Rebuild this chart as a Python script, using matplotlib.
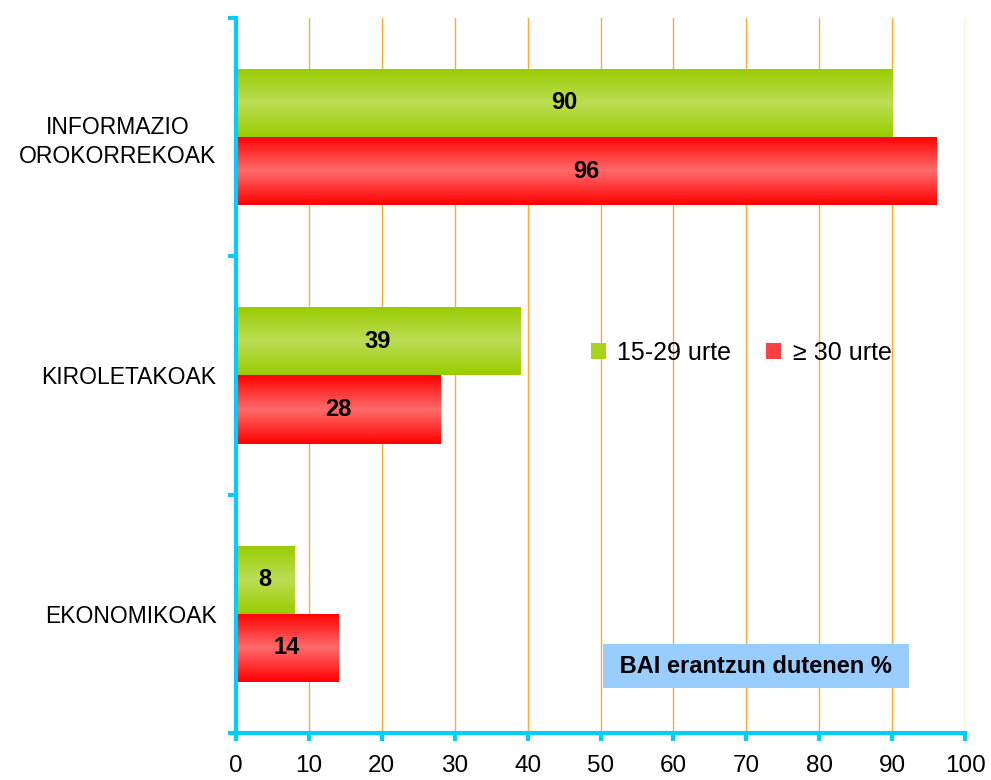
import numpy as np
import matplotlib.pyplot as plt
from matplotlib.colors import LinearSegmentedColormap
from matplotlib.patches import Patch

plt.rcParams['font.family'] = ['Liberation Sans', 'DejaVu Sans']

categories = ["INFORMAZIO\nOROKORREKOAK", "KIROLETAKOAK", "EKONOMIKOAK"]
young = [90, 39, 8]
old = [96, 28, 14]
series_names = ["15-29 urte", "\u2265 30 urte"]
xticks = list(range(0, 101, 10))

green_cm = LinearSegmentedColormap.from_list("g", ["#99CC00", "#BBDD55", "#99CC00"])
red_cm = LinearSegmentedColormap.from_list("r", ["#FF0000", "#FF6B6B", "#FF0000"])
spine_col = "#00CCFF"


def gradient_fill(ax, bars, cmap):
    grad = np.linspace(0, 1, 256).reshape(-1, 1)
    for b in bars:
        x0, y0 = b.get_x(), b.get_y()
        w, h = b.get_width(), b.get_height()
        b.set_facecolor("none")
        im = ax.imshow(grad, cmap=cmap, aspect="auto", extent=(x0, x0 + w, y0, y0 + h),
                       origin="lower", zorder=2, interpolation="bicubic")
        im.set_clip_path(b)


def main():
    fig = plt.figure(figsize=(9.91, 7.8), dpi=100)
    ax = fig.add_axes([0.238, 0.0603, 0.736, 0.917])

    pos = np.arange(len(categories))
    h = 0.286
    b1 = ax.barh(pos - h / 2, young, height=h, zorder=2, linewidth=0)
    b2 = ax.barh(pos + h / 2, old, height=h, zorder=2, linewidth=0)
    gradient_fill(ax, b1, green_cm)
    gradient_fill(ax, b2, red_cm)

    for bars, vals in ((b1, young), (b2, old)):
        for b, v in zip(bars, vals):
            ax.text(b.get_width() / 2, b.get_y() + b.get_height() / 2, str(v),
                    ha="center", va="center", fontsize=17, fontweight="bold", zorder=3)

    ax.set_xlim(0, 100)
    ax.set_ylim(2.5, -0.5)
    ax.set_xticks(xticks)
    ax.set_xticklabels([str(t) for t in xticks], fontsize=17.5)
    ax.set_yticks(pos)
    ax.set_yticklabels(categories, fontsize=16.5, linespacing=1.3)
    ax.set_yticks(np.arange(-0.5, len(categories), 1), minor=True)
    ax.tick_params(axis="y", which="major", length=0, pad=14)
    ax.tick_params(axis="y", which="minor", length=6, width=3, color=spine_col, direction="out")
    ax.tick_params(axis="x", length=6, width=3, color=spine_col, direction="out", pad=10)
    for t in ax.get_yticklabels():
        t.set_multialignment("center")

    for x in xticks[1:]:
        ax.axvline(x, color="#FFAA33", linewidth=1, zorder=1)

    for s in ["top", "right"]:
        ax.spines[s].set_visible(False)
    for s in ["left", "bottom"]:
        ax.spines[s].set_color(spine_col)
        ax.spines[s].set_linewidth(3)

    handles = [Patch(facecolor="#A8D420"), Patch(facecolor="#FF4040")]
    ax.legend(handles, series_names, loc="center", bbox_to_anchor=(0.693, 0.531),
              ncol=2, frameon=False, fontsize=18, handlelength=0.6, handleheight=0.6,
              handletextpad=0.45, columnspacing=1.4)

    ax.text(71.3, 2.22, " BAI erantzun dutenen % ", ha="center", va="center",
            fontsize=17, fontweight="bold", zorder=4,
            bbox=dict(boxstyle="square,pad=0.45", facecolor="#99CCFF", edgecolor="none"))

    fig.savefig("out.png", dpi=100)


if __name__ == "__main__":
    main()
